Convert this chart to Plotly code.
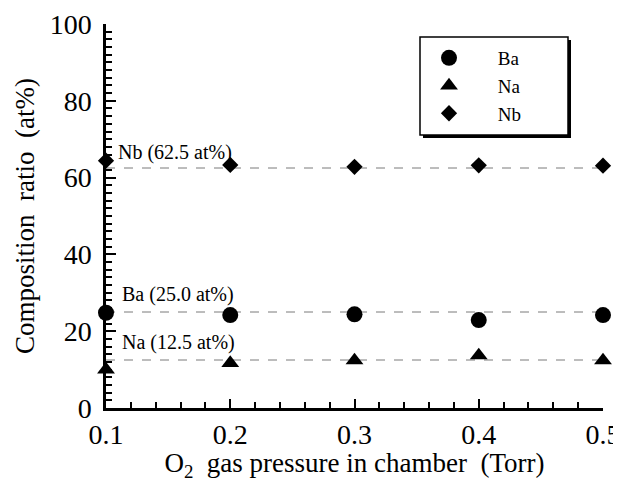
import plotly.graph_objects as go

pressure = [0.1, 0.2, 0.3, 0.4, 0.5]
ba = [24.8, 24.2, 24.4, 22.9, 24.2]
na = [10.0, 11.7, 12.4, 13.7, 12.4]
nb = [64.4, 63.3, 62.8, 63.2, 63.1]

ref_values = [62.5, 25.0, 12.5]
ref_labels = ["Nb (62.5 at%)", "Ba (25.0 at%)", "Na (12.5 at%)"]

x_ticks = [0.1, 0.2, 0.3, 0.4, 0.5]
y_ticks = [0, 20, 40, 60, 80, 100]

FONT = "Liberation Serif"

# page body has an 8px margin; figure is drawn at (8, 8)
OFF = 8
FW, FH = 621 - OFF, 482 - OFF
L, R, T, B = 106 - OFF, 603 - OFF, 24 - OFF, 408 - OFF
W, H = R - L, B - T


def px(x):
    return (x - OFF - L) / W


def py(y):
    return (B - (y - OFF)) / H


fig = go.Figure()

# reference dashed lines
for v in ref_values:
    fig.add_shape(type="line", xref="x", yref="y", x0=min(pressure), x1=max(pressure),
                  y0=v, y1=v, line=dict(color="#7a7a7a", width=1, dash="9px,9px"), layer="below")

series = [("Ba", ba, "circle", 16), ("Na", na, "triangle-up", 15.5), ("Nb", nb, "diamond", 12.5)]
for name, vals, sym, sz in series:
    fig.add_trace(go.Scatter(x=pressure, y=vals, mode="markers",
                             name="\u00a0" * 5 + name,
                             marker=dict(symbol=sym, size=sz, color="black"),
                             cliponaxis=False))

shifts = [(10, 2), (14, 4), (14, 4)]
for (v, lab), (xs, ys) in zip(zip(ref_values, ref_labels), shifts):
    fig.add_annotation(x=min(pressure), y=v, xref="x", yref="y", text=lab, showarrow=False,
                       xanchor="left", yanchor="bottom", xshift=xs, yshift=ys,
                       font=dict(family=FONT, size=20, color="black"))

# legend box with shadow
fig.add_shape(type="rect", xref="paper", yref="paper",
              x0=px(423), x1=px(571), y0=py(138), y1=py(40),
              fillcolor="black", line=dict(width=0), layer="above")
fig.add_shape(type="rect", xref="paper", yref="paper",
              x0=px(420), x1=px(568), y0=py(135), y1=py(37),
              fillcolor="white", line=dict(width=1.5, color="black"), layer="above")

fig.update_layout(
    width=FW, height=FH,
    margin=dict(l=L, r=FW - R, t=T, b=FH - B, autoexpand=False),
    paper_bgcolor="white", plot_bgcolor="white",
    font=dict(family=FONT, size=28, color="black"),
    showlegend=True,
    legend=dict(x=px(424), y=py(39), xanchor="left", yanchor="top",
                bgcolor="rgba(0,0,0,0)", borderwidth=0,
                font=dict(family=FONT, size=19), itemwidth=40, tracegroupgap=0),
    xaxis=dict(range=[0.1, 0.5], tickvals=x_ticks, ticktext=[str(t) for t in x_ticks],
               automargin=False, ticklabelstandoff=0,
               showline=True, linecolor="black", linewidth=2.5, mirror=False,
               ticks="inside", ticklen=9, tickwidth=2, tickcolor="black",
               minor=dict(ticks="inside", dtick=0.02, ticklen=6, tickwidth=2, tickcolor="black"),
               showgrid=False, zeroline=False,
               title=dict(text="O<sub>2</sub>\u00a0\u00a0gas pressure in chamber\u00a0\u00a0(Torr)",
                          font=dict(size=27), standoff=6)),
    yaxis=dict(range=[0, 100], tickvals=y_ticks, automargin=False, ticklabelstandoff=6,
               showline=True, linecolor="black", linewidth=2.5, mirror=False,
               ticks="inside", ticklen=10, tickwidth=2, tickcolor="black",
               minor=dict(ticks="inside", dtick=2, ticklen=6, tickwidth=2, tickcolor="black"),
               showgrid=False, zeroline=False,
               title=dict(text="Composition\u00a0\u00a0ratio\u00a0\u00a0(at%)", font=dict(size=27), standoff=8)),
)

fig.write_html("out.html")
